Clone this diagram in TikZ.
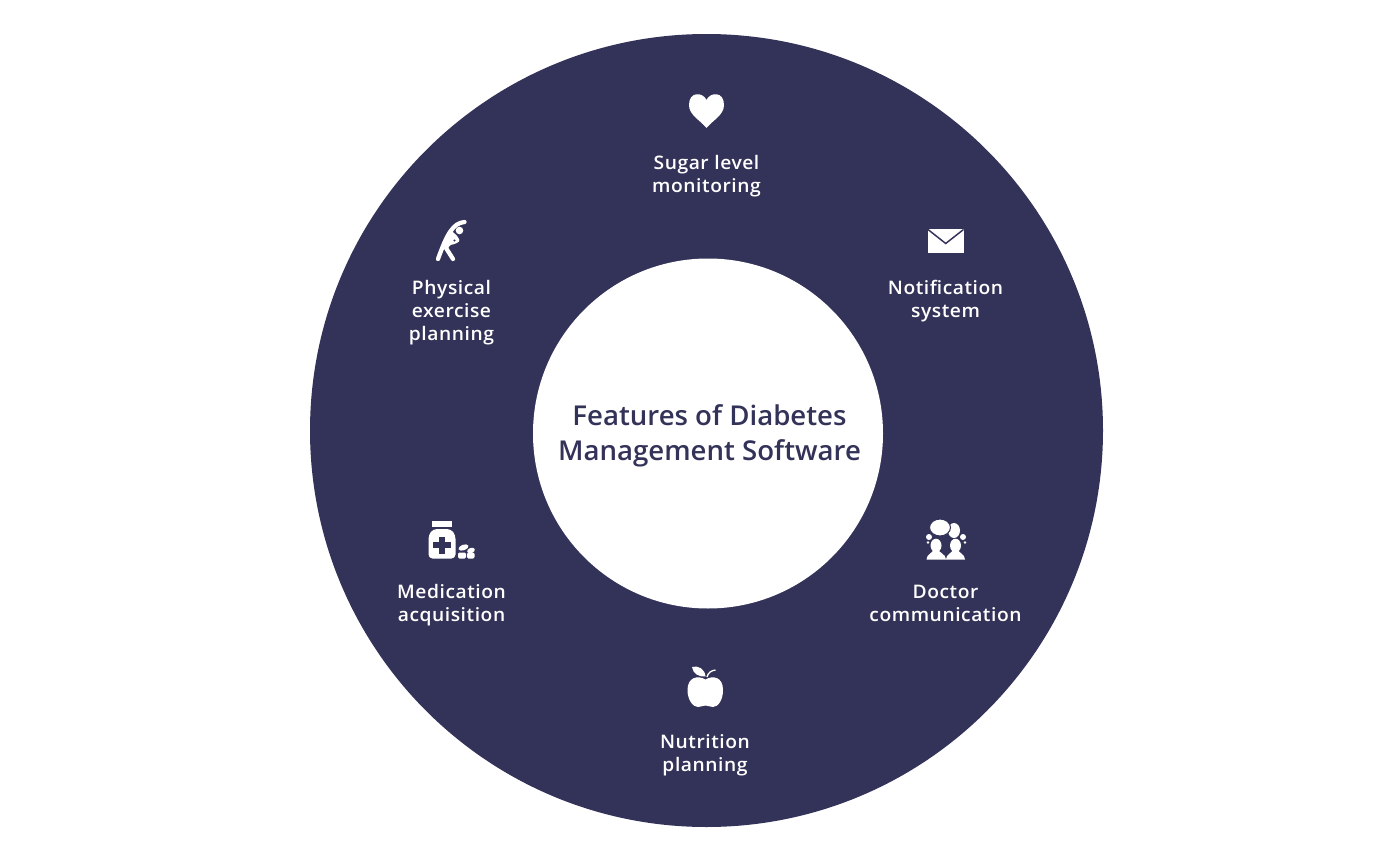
\documentclass[tikz,border=0pt]{standalone}
\usepackage{fontspec}
\setmainfont{Open Sans}
\newfontfamily\labelfont[LetterSpace=3,FakeStretch=1.03]{Open Sans Semibold}
\newfontfamily\titlefont[FakeStretch=1.01]{Open Sans Semibold}
\definecolor{ringblue}{HTML}{333258}
\begin{document}
\begin{tikzpicture}[
  x=0.75pt,y=-0.75pt,
  feature/.style={text=white,align=center,font=\labelfont\fontsize{14}{17.3}\selectfont},
  heading/.style={text=ringblue,align=center,font=\titlefont\fontsize{20.5}{25.8}\selectfont},
  icon/.style={fill=white,draw=none},
  cutout/.style={draw=ringblue,line width=1.1pt},
  limb/.style={draw=white,line cap=round,line join=round,line width=3.2pt},
]
\useasboundingbox (0,0) rectangle (1400,860);
% ring
\fill[ringblue] (706.5,430.5) circle[radius=396.5];
\fill[white] (708,433.5) circle[radius=175];

% title
\node[heading] (title) at (709.5,436) {Features of Diabetes\\Management Software};

% labels, clockwise from the top
\node[feature] (sugar) at (706.5,176) {Sugar level\\monitoring};
\node[feature] (notify) at (945.5,301) {Notification\\system};
\node[feature] (doctor) at (945.5,603) {Doctor\\communication};
\node[feature] (nutrition) at (705,755) {Nutrition\\planning};
\node[feature] (medication) at (451.5,605) {Medication\\acquisition};
\node[feature] (exercise) at (451.5,312.5) {Physical\\exercise\\planning};

% heart
\fill[icon] (706.5,128) .. controls (700,120) and (689,115) .. (689,105)
  .. controls (689,91) and (703,92) .. (706.5,100)
  .. controls (710,92) and (724,91) .. (724,105)
  .. controls (724,115) and (713,120) .. (706.5,128) -- cycle;

% envelope
\fill[icon] (928,229) rectangle (963.5,253);
\draw[cutout] (928,229.5) -- (945.7,243.5) -- (963.5,229.5);

% person bending
\fill[icon] (459.5,230.5) circle[radius=3.8];
\draw[limb] (464.5,222) .. controls (453,223) and (447,234) .. (438,259);
\fill[icon,rounded corners=1pt] (451.7,231) -- (457.3,236) -- (460,241) -- (455,244) -- (450,245) -- (447,250) -- (441.7,246.7) -- cycle;
\fill[ringblue] (454.5,240.5) circle[radius=1.1];
\draw[limb] (446,248) -- (453,259);

% pill bottle
\fill[icon] (432,521) rectangle (452,527);
\fill[icon,rounded corners=3pt] (433,529) -- (451,529) -- (455.5,535) -- (455.5,558.5) -- (428.5,558.5) -- (428.5,535) -- cycle;
\fill[ringblue] (439,536.5) rectangle (444.8,553.5);
\fill[ringblue] (433.3,542.2) rectangle (450.5,548);
\fill[icon,rotate around={20:(463.5,547.5)}] (463.5,547.5) ellipse[x radius=5.2,y radius=2.8];
\fill[icon,rotate around={20:(471,550.5)}] (471,550.5) ellipse[x radius=4,y radius=2.6];
\fill[icon,rounded corners=1pt] (458,552.5) rectangle (466,558.5);
\fill[icon,rounded corners=1pt] (467,552.5) rectangle (474.5,558.5);

% two people talking
\fill[icon] (954,530.5) ellipse[x radius=6,y radius=7.5];
\draw[ringblue,line width=0.8pt,fill=white] (940,527.5) ellipse[x radius=10.5,y radius=8.5];
\fill[icon] (929,537) circle[radius=3];
\fill[icon] (928,542.5) circle[radius=1.3];
\fill[icon] (963,537) circle[radius=3];
\fill[icon] (965,542.5) circle[radius=1.3];
\fill[icon] (936,545.5) ellipse[x radius=5.5,y radius=6.8];
\fill[icon] (955.5,545.5) ellipse[x radius=5.5,y radius=6.8];
\fill[icon] (926.5,559.5) .. controls (926.5,554) and (933,553) .. (934,549) -- (938,549)
  .. controls (939,553) and (946,554) .. (946,559.5)
  .. controls (946,554) and (952.5,553) .. (953.5,549) -- (957.5,549)
  .. controls (958.5,553) and (965,554) .. (965,559.5) -- cycle;

% apple
\fill[icon] (705.5,679.5) .. controls (698,675) and (687.5,677) .. (687.5,690)
  .. controls (687.5,700) and (693,707) .. (698,707)
  .. controls (701,707) and (703,705.5) .. (705.5,705.5)
  .. controls (708,705.5) and (710,707) .. (713,707)
  .. controls (718,707) and (723,700) .. (723,690)
  .. controls (723,677) and (713,675) .. (705.5,679.5) -- cycle;
\fill[icon] (692,667) .. controls (698,665) and (705,669) .. (705.5,676.5)
  .. controls (699,677) and (693,674) .. (692,667) -- cycle;
\draw[white,line width=1pt] (707,677) .. controls (708,673) and (711,670.5) .. (715.5,670);
\end{tikzpicture}
\end{document}
